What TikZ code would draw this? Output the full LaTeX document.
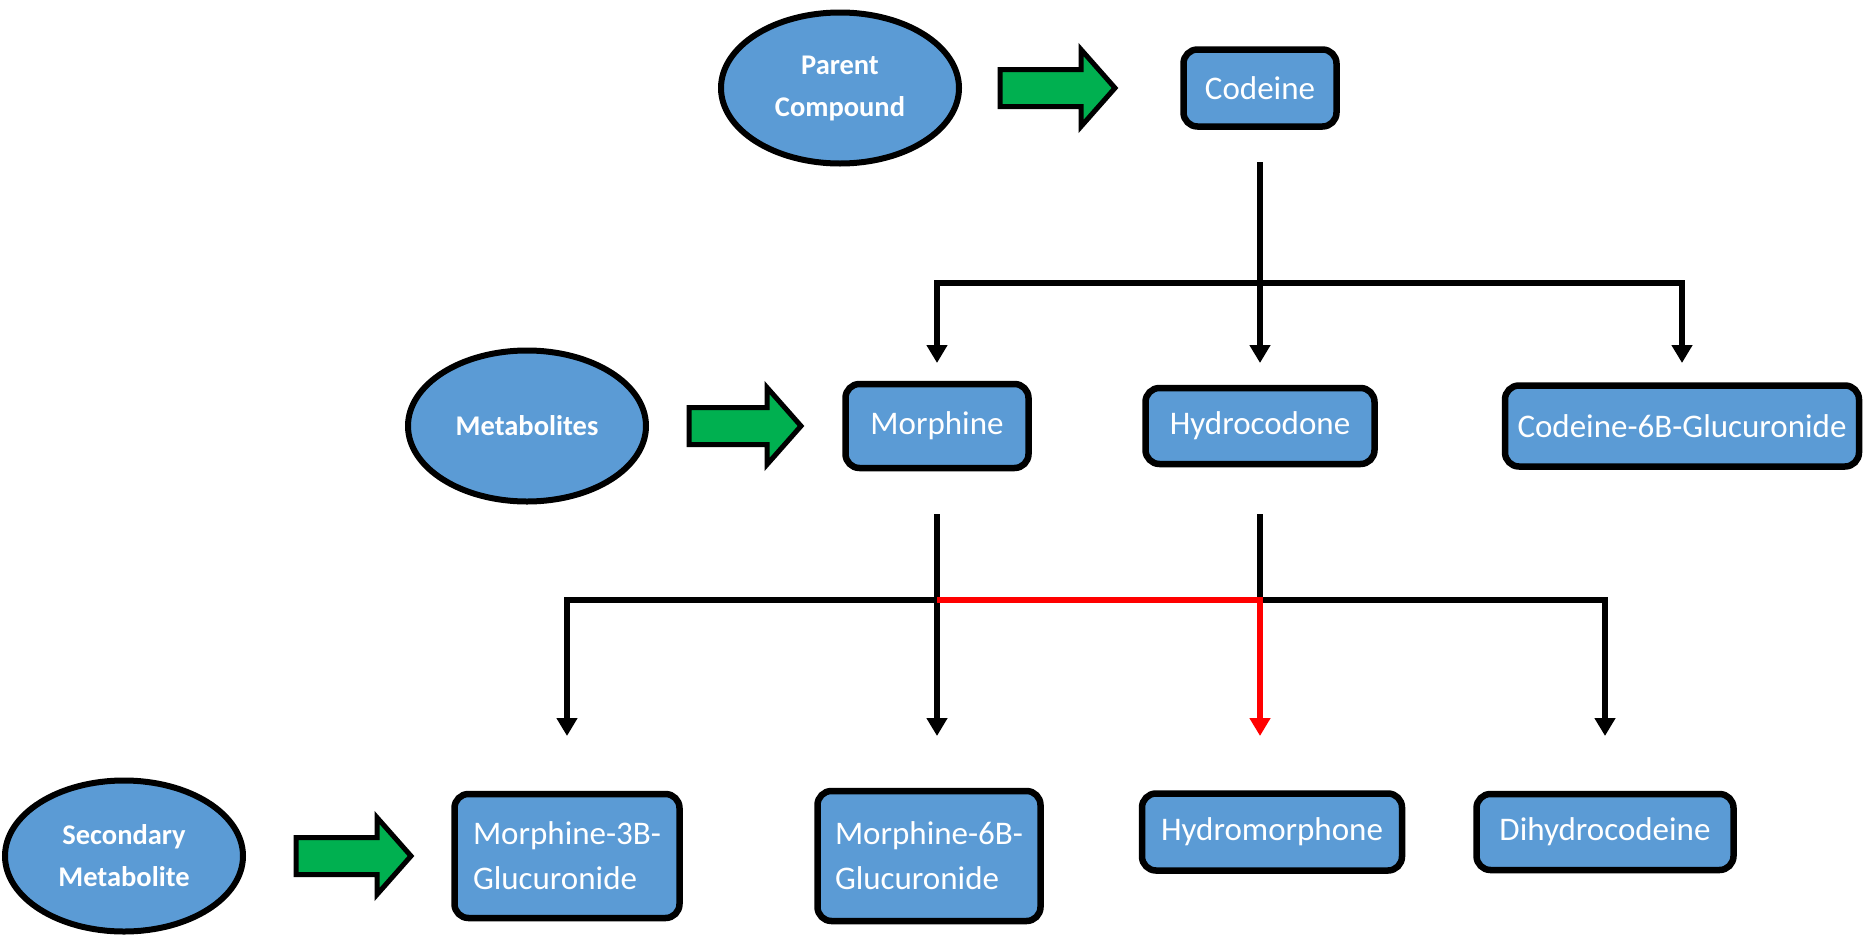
\documentclass[tikz,border=0pt]{standalone}
\usepackage{fontspec}
\setmainfont{Carlito}
\usepackage{tikz}
\usetikzlibrary{arrows.meta,shapes.geometric}
\definecolor{boxblue}{RGB}{91,155,213}
\definecolor{arrowgreen}{RGB}{0,176,80}
\tikzstyle{box}=[rectangle, rounded corners=14pt, draw=black, line width=6.5pt, fill=boxblue, text=white, inner sep=0pt, font=\fontsize{33}{45}\selectfont]
\tikzstyle{stage}=[ellipse, draw=black, line width=6pt, fill=boxblue, text=white, inner sep=0pt, minimum width=238pt, minimum height=151pt, align=center, font=\bfseries\fontsize{28.5}{42}\selectfont]
\tikzstyle{link}=[draw=black, line width=6pt]
\tikzstyle{redlink}=[draw=red, line width=6pt]
\tikzstyle{fatarrow}=[draw=black, line width=5pt, fill=arrowgreen, line join=miter]
\tikzset{>={Triangle[width=20pt,length=18pt]}}

\begin{document}
\begin{tikzpicture}[x=1pt, y=-1pt]
\useasboundingbox (0,0) rectangle (1864,937);

\node (parent)        [stage] at (840,88) {Parent\\Compound};
\node (codeine)       [box, right of = parent, node distance=420pt, minimum width=153pt, minimum height=77pt] {Codeine};
\node (hydrocodone)   [box, below of = codeine, node distance=338pt, minimum width=229pt, minimum height=76pt] {Hydrocodone};
\node (morphine)      [box, left of = hydrocodone, node distance=323pt, minimum width=183pt, minimum height=84pt] {Morphine};
\node (c6g)           [box, right of = hydrocodone, node distance=422pt, minimum width=354pt, minimum height=81pt] {Codeine-6B-Glucuronide};
\node (metabolites)   [stage, left of = morphine, node distance=410pt] {Metabolites};
\node (hydromorphone) [box, below of = hydrocodone, node distance=406pt, xshift=12pt, minimum width=260pt, minimum height=77pt] {Hydromorphone};
\node (dihydro)       [box, right of = hydromorphone, node distance=333pt, minimum width=257pt, minimum height=76pt] {Dihydrocodeine};
\node (m6g)           [box, below of = morphine, node distance=430pt, xshift=-8pt, minimum width=223pt, minimum height=130pt, align=left] {Morphine-6B-\\Glucuronide};
\node (m3g)           [box, left of = m6g, node distance=362pt, minimum width=225pt, minimum height=124pt, align=left] {Morphine-3B-\\Glucuronide};
\node (secondary)     [stage, left of = m3g, node distance=443pt] {Secondary\\Metabolite};

% green block arrows
\draw [fatarrow] ([xshift=38pt]parent.east) ++(0,-18.5) -- ++(81,0) -- ++(0,-20) -- ++(34,38.5) -- ++(-34,38.5) -- ++(0,-20) -- ++(-81,0) -- cycle;
\draw [fatarrow] ([xshift=40pt]metabolites.east) ++(0,-18.5) -- ++(78,0) -- ++(0,-20) -- ++(34,38.5) -- ++(-34,38.5) -- ++(0,-20) -- ++(-78,0) -- cycle;
\draw [fatarrow] ([xshift=50pt]secondary.east) ++(0,-18.5) -- ++(81,0) -- ++(0,-20) -- ++(34,38.5) -- ++(-34,38.5) -- ++(0,-20) -- ++(-81,0) -- cycle;

\coordinate (startA) at (0,162);
\coordinate (busA)   at (0,283);
\coordinate (tipA)   at (0,363);
\coordinate (startB) at (0,514);
\coordinate (busB)   at (0,600);
\coordinate (tipB)   at (0,736);

\draw [link, ->] (codeine |- startA) -- (hydrocodone |- tipA);
\draw [link, ->] (codeine |- busA) -| (morphine |- tipA);
\draw [link, ->] (codeine |- busA) -| (c6g |- tipA);

\draw [link, ->] (morphine |- startB) -- (morphine |- tipB);
\draw [link, ->] (morphine |- busB) -| (m3g |- tipB);
\draw [link] (hydrocodone |- startB) -- (hydrocodone |- busB);
\draw [link, ->] (hydrocodone |- busB) -| (dihydro |- tipB);
\draw [redlink, ->] (morphine |- busB) -- (hydrocodone |- busB) -- (hydrocodone |- tipB);

\end{tikzpicture}
\end{document}
